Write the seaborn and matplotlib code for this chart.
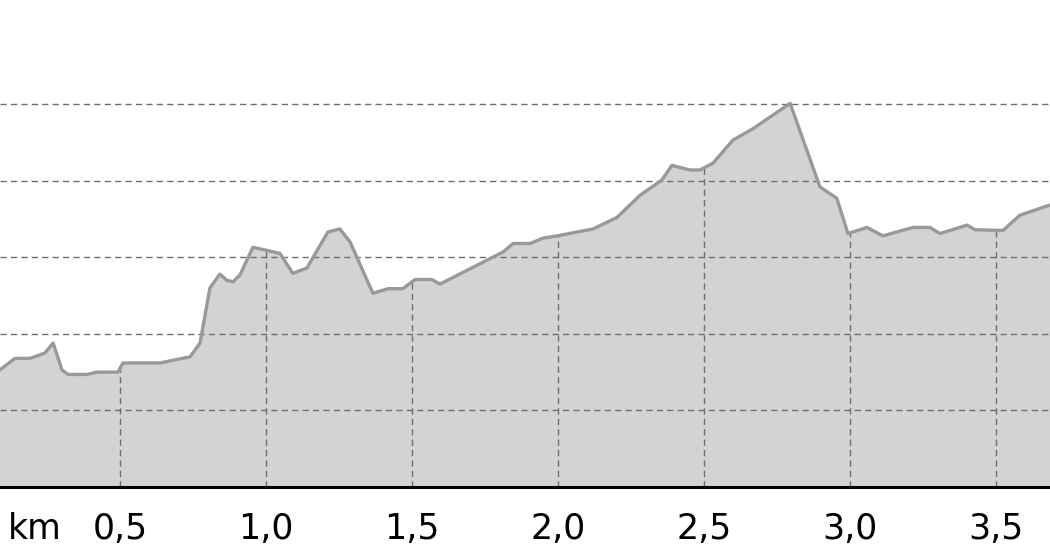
import numpy as np
import matplotlib
matplotlib.use('Agg')
import matplotlib.pyplot as plt
import pandas as pd
import seaborn as sns

# elevation profile
km = [0.089, 0.140, 0.192, 0.243, 0.271, 0.301, 0.322, 0.387, 0.421, 0.493,
      0.510, 0.637, 0.688, 0.740, 0.774, 0.808, 0.842, 0.866, 0.887, 0.911,
      0.955, 1.003, 1.048, 1.092, 1.140, 1.212, 1.253, 1.288, 1.366, 1.418,
      1.469, 1.510, 1.568, 1.596, 1.812, 1.846, 1.904, 1.949, 1.997, 2.120,
      2.202, 2.281, 2.356, 2.390, 2.452, 2.486, 2.531, 2.599, 2.668, 2.795,
      2.897, 2.955, 2.993, 3.058, 3.113, 3.216, 3.274, 3.308, 3.401, 3.428,
      3.524, 3.582, 3.675, 3.685]
elev = [265.3, 266.8, 266.8, 267.5, 268.8, 265.3, 264.7, 264.7, 265.0, 265.0,
        266.2, 266.2, 266.6, 267.0, 268.8, 276.0, 277.8, 277.0, 276.8, 277.7,
        281.3, 280.9, 280.5, 277.9, 278.6, 283.3, 283.7, 282.0, 275.3, 275.9,
        275.9, 277.1, 277.1, 276.5, 280.7, 281.8, 281.8, 282.5, 282.8, 283.7,
        285.2, 288.1, 290.1, 292.0, 291.4, 291.4, 292.3, 295.3, 296.8, 300.1,
        289.2, 287.7, 283.1, 283.9, 282.8, 283.9, 283.9, 283.1, 284.2, 283.6,
        283.5, 285.5, 286.7, 286.8]

xticks = [0.5, 1.0, 1.5, 2.0, 2.5, 3.0, 3.5]
xtick_labels = ['0,5', '1,0', '1,5', '2,0', '2,5', '3,0', '3,5']
ygrid = [260, 270, 280, 290, 300]

df = pd.DataFrame({'km': km, 'elev': elev})

sns.set_style('white')
plt.rcParams['font.family'] = ['DejaVu Sans']

fig = plt.figure(figsize=(10.5, 5.6), dpi=100)
ax = fig.add_axes([0, 73 / 560, 1, 487 / 560])

grid_kw = dict(color='#6e6e6e', lw=1.0, ls=(0, (4.5, 3)))

ax.fill_between(df['km'], df['elev'], 240, color='#d3d3d3', lw=0, zorder=1)
# horizontal grid across the whole plot, vertical grid only under the profile
for y in ygrid:
    ax.axhline(y, zorder=2, **grid_kw)
ax.vlines(xticks, 250, np.interp(xticks, km, elev), zorder=2, **grid_kw)
sns.lineplot(data=df, x='km', y='elev', ax=ax, color='#999999', lw=2.4, zorder=3)

ax.set_xlim(0.089, 3.685)
ax.set_ylim(250, 313.6)

ax.set_xticks(xticks)
ax.set_xticklabels(xtick_labels)
ax.set_yticks([])
ax.tick_params(axis='x', length=0, pad=18, labelsize=25, colors='black')
ax.set_xlabel('')
ax.set_ylabel('')

for side in ['top', 'left', 'right']:
    ax.spines[side].set_visible(False)
ax.spines['bottom'].set_color('black')
ax.spines['bottom'].set_linewidth(2.2)
ax.spines['bottom'].set_zorder(5)

ax.annotate('km', xy=(0.209, 0), xycoords=ax.get_xaxis_transform(),
            xytext=(0, -18), textcoords='offset points',
            ha='center', va='top', fontsize=25, color='black')

fig.savefig('out.png', dpi=100)
